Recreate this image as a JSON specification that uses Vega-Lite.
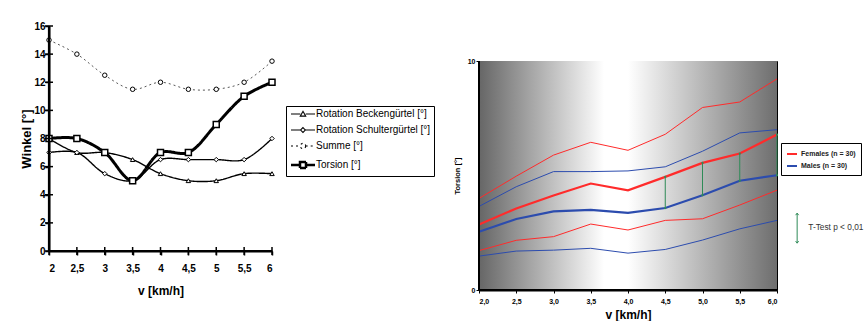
{
  "$schema": "https://vega.github.io/schema/vega-lite/v6.json",
  "background": "white",
  "padding": {"left": 20, "top": 21, "right": 0, "bottom": 0},
  "config": {
    "font": "Liberation Sans",
    "view": {"stroke": null},
    "axis": {"grid": false, "domain": true, "ticks": true, "zindex": 1, "labelOverlap": false, "domainColor": "#000000", "tickColor": "#000000", "labelColor": "black", "titleColor": "black"}
  },
  "spacing": 17,
  "resolve": {"scale": {"x": "independent", "y": "independent", "color": "independent", "strokeDash": "independent", "stroke": "independent"}},
  "hconcat": [
    {
      "width": 223,
      "height": 225,
      "data": {"values": [
        {"v": 2, "series": "Rotation Beckengürtel [°]", "w": 8},
        {"v": 2.5, "series": "Rotation Beckengürtel [°]", "w": 7},
        {"v": 3, "series": "Rotation Beckengürtel [°]", "w": 7},
        {"v": 3.5, "series": "Rotation Beckengürtel [°]", "w": 6.5},
        {"v": 4, "series": "Rotation Beckengürtel [°]", "w": 5.5},
        {"v": 4.5, "series": "Rotation Beckengürtel [°]", "w": 5},
        {"v": 5, "series": "Rotation Beckengürtel [°]", "w": 5},
        {"v": 5.5, "series": "Rotation Beckengürtel [°]", "w": 5.5},
        {"v": 6, "series": "Rotation Beckengürtel [°]", "w": 5.5},
        {"v": 2, "series": "Rotation Schultergürtel [°]", "w": 7},
        {"v": 2.5, "series": "Rotation Schultergürtel [°]", "w": 7},
        {"v": 3, "series": "Rotation Schultergürtel [°]", "w": 5.5},
        {"v": 3.5, "series": "Rotation Schultergürtel [°]", "w": 5},
        {"v": 4, "series": "Rotation Schultergürtel [°]", "w": 6.5},
        {"v": 4.5, "series": "Rotation Schultergürtel [°]", "w": 6.5},
        {"v": 5, "series": "Rotation Schultergürtel [°]", "w": 6.5},
        {"v": 5.5, "series": "Rotation Schultergürtel [°]", "w": 6.5},
        {"v": 6, "series": "Rotation Schultergürtel [°]", "w": 8},
        {"v": 2, "series": "Summe [°]", "w": 15},
        {"v": 2.5, "series": "Summe [°]", "w": 14},
        {"v": 3, "series": "Summe [°]", "w": 12.5},
        {"v": 3.5, "series": "Summe [°]", "w": 11.5},
        {"v": 4, "series": "Summe [°]", "w": 12},
        {"v": 4.5, "series": "Summe [°]", "w": 11.5},
        {"v": 5, "series": "Summe [°]", "w": 11.5},
        {"v": 5.5, "series": "Summe [°]", "w": 12},
        {"v": 6, "series": "Summe [°]", "w": 13.5},
        {"v": 2, "series": "Torsion [°]", "w": 8},
        {"v": 2.5, "series": "Torsion [°]", "w": 8},
        {"v": 3, "series": "Torsion [°]", "w": 7},
        {"v": 3.5, "series": "Torsion [°]", "w": 5},
        {"v": 4, "series": "Torsion [°]", "w": 7},
        {"v": 4.5, "series": "Torsion [°]", "w": 7},
        {"v": 5, "series": "Torsion [°]", "w": 9},
        {"v": 5.5, "series": "Torsion [°]", "w": 11},
        {"v": 6, "series": "Torsion [°]", "w": 12}
      ]},
      "encoding": {
        "x": {"field": "v", "type": "quantitative", "title": "v [km/h]", "scale": {"domain": [2, 6], "nice": false, "zero": false},
          "axis": {"values": [2, 2.5, 3, 3.5, 4, 4.5, 5, 5.5, 6], "labelOverlap": false, "labelExpr": "replace(toString(datum.value), '.', ',')", "labelFontSize": 10, "labelFontWeight": "bold", "tickSize": 4, "tickWidth": 1.5, "domainWidth": 2, "labelPadding": 8, "titleFontSize": 12, "titleFontWeight": "bold", "titlePadding": 12}},
        "y": {"field": "w", "type": "quantitative", "title": "Winkel [°]", "scale": {"domain": [0, 16]},
          "axis": {"values": [0, 2, 4, 6, 8, 10, 12, 14, 16], "labelOverlap": false, "labelFontSize": 10, "labelFontWeight": "bold", "tickSize": 4, "tickWidth": 1.5, "domainWidth": 2, "labelPadding": 0, "titleFontSize": 13, "titleFontWeight": "bold", "titlePadding": 0}}
      },
      "layer": [
        {
          "transform": [{"filter": "datum.series != 'Torsion [°]'"}],
          "mark": {"type": "line", "interpolate": "catmull-rom"},
          "encoding": {
            "color": {"condition": {"test": "datum.series == 'Summe [°]'", "value": "#444444"}, "value": "#000000"},
            "strokeWidth": {"condition": {"test": "datum.series == 'Summe [°]'", "value": 0.9}, "value": 1.4},
            "strokeDash": {"field": "series", "type": "nominal", "scale": {"domain": ["Rotation Beckengürtel [°]", "Rotation Schultergürtel [°]", "Summe [°]", "Torsion [°]"], "range": [[1, 0], [1, 0], [2, 3], [1, 0]]},
              "legend": {
                "orient": "none", "legendX": 237, "legendY": 80, "title": null,
                "strokeColor": "black", "fillColor": "white", "padding": 3,
                "symbolSize": 36, "symbolStrokeColor": "black", "symbolFillColor": "white",
                "labelFontSize": 10, "labelColor": "black", "labelOffset": 17, "rowPadding": 6, "labelLimit": 200,
                "encode": {"symbols": {"update": {
                  "shape": {"signal": "datum.value == 'Rotation Beckengürtel [°]' ? 'M-1,0H2.1M3.9,0H7M3,-0.9L3.9,0.7L2.1,0.7Z' : datum.value == 'Rotation Schultergürtel [°]' ? 'M-1,0H2.2M3.8,0H7M3,-0.8L3.8,0L3,0.8L2.2,0Z' : datum.value == 'Summe [°]' ? 'M-1,0H2.1M3.9,0H7M3.9,0A0.9,0.9 0 1,1 2.1,0A0.9,0.9 0 1,1 3.9,0Z' : 'M-1,0H2M4,0H7M2,-1H4V1H2Z'"},
                  "strokeWidth": {"signal": "datum.value == 'Torsion [°]' ? 2.5 : 1.1"}
                }}}
              }}
          }
        },
        {
          "transform": [{"filter": "datum.series == 'Torsion [°]'"}],
          "mark": {"type": "line", "interpolate": "catmull-rom", "strokeWidth": 3, "color": "#000000"},
          "encoding": {
            "strokeDash": {"field": "series", "type": "nominal"}
          }
        },
        {
          "mark": {"type": "point", "filled": false, "fill": "white", "stroke": "black", "opacity": 1},
          "encoding": {
            "shape": {"condition": [
              {"test": "datum.series == 'Rotation Beckengürtel [°]'", "value": "triangle-up"},
              {"test": "datum.series == 'Rotation Schultergürtel [°]'", "value": "diamond"},
              {"test": "datum.series == 'Summe [°]'", "value": "circle"}
            ], "value": "square"},
            "size": {"condition": {"test": "datum.series == 'Torsion [°]'", "value": 36}, "value": 20},
            "strokeWidth": {"condition": {"test": "datum.series == 'Torsion [°]'", "value": 1.5}, "value": 1}
          }
        },
        {
          "data": {"values": [{"v": 2, "w": 16, "o": 1}, {"v": 2, "w": 0, "o": 2}, {"v": 6, "w": 0, "o": 3}]},
          "mark": {"type": "line", "strokeWidth": 2.2, "color": "#000000", "clip": false},
          "encoding": {"order": {"field": "o", "type": "quantitative"}}
        },
        {
          "data": {"values": [{"v": 2, "w": 0}, {"v": 2.5, "w": 0}, {"v": 3, "w": 0}, {"v": 3.5, "w": 0}, {"v": 4, "w": 0}, {"v": 4.5, "w": 0}, {"v": 5, "w": 0}, {"v": 5.5, "w": 0}, {"v": 6, "w": 0}]},
          "mark": {"type": "tick", "orient": "vertical", "size": 8, "thickness": 1.5, "color": "#000000", "opacity": 1, "clip": false}
        },
        {
          "data": {"values": [{"v": 2, "w": 0}, {"v": 2, "w": 2}, {"v": 2, "w": 4}, {"v": 2, "w": 6}, {"v": 2, "w": 8}, {"v": 2, "w": 10}, {"v": 2, "w": 12}, {"v": 2, "w": 14}, {"v": 2, "w": 16}]},
          "mark": {"type": "tick", "orient": "horizontal", "size": 8, "thickness": 1.5, "color": "#000000", "opacity": 1, "clip": false}
        }
      ]
    },
    {
      "spacing": 0,
      "vconcat": [
        {
          "width": 298,
          "height": 30,
          "data": {"values": []},
          "mark": "point"
        },
        {
          "width": 298,
          "height": 229,
          "view": {"stroke": "black", "strokeWidth": 1},
          "encoding": {
            "x": {"field": "v", "type": "quantitative", "title": "v [km/h]", "scale": {"domain": [2, 6], "nice": false, "zero": false},
              "axis": {"values": [2, 2.5, 3, 3.5, 4, 4.5, 5, 5.5, 6], "labelOverlap": false, "format": ".1f", "labelExpr": "replace(datum.label, '.', ',')", "labelFontSize": 7, "labelFontWeight": "bold", "tickSize": 3, "domainWidth": 2, "labelPadding": 4, "titleFontSize": 12, "titleFontWeight": "bold", "titlePadding": 5}},
            "y": {"field": "t", "type": "quantitative", "title": "Torsion [°]", "scale": {"domain": [0, 10]},
              "axis": {"values": [0, 10], "labelOverlap": false, "labelFontSize": 7, "labelFontWeight": "bold", "tickSize": 3, "domainWidth": 2, "labelPadding": 1, "titleFontSize": 7.5, "titleFontWeight": "bold", "titlePadding": 6}}
          },
          "layer": [
            {
              "data": {"values": [{"v": 2, "v2": 6, "t": 0, "t2": 10}]},
              "mark": {"type": "rect", "fill": {"gradient": "linear", "x1": 0, "y1": 0, "x2": 1, "y2": 0, "stops": [{"offset": 0, "color": "#666666"}, {"offset": 0.42, "color": "#ffffff"}, {"offset": 0.5, "color": "#ffffff"}, {"offset": 1, "color": "#6e6e6e"}]}},
              "encoding": {"x2": {"field": "v2"}, "y2": {"field": "t2"}}
            },
            {
              "data": {"values": [
                {"v": 2, "g": "Females (n = 30)", "s": "upper", "t": 4.0},
                {"v": 2.5, "g": "Females (n = 30)", "s": "upper", "t": 4.97},
                {"v": 3, "g": "Females (n = 30)", "s": "upper", "t": 5.89},
                {"v": 3.5, "g": "Females (n = 30)", "s": "upper", "t": 6.45},
                {"v": 4, "g": "Females (n = 30)", "s": "upper", "t": 6.1},
                {"v": 4.5, "g": "Females (n = 30)", "s": "upper", "t": 6.8},
                {"v": 5, "g": "Females (n = 30)", "s": "upper", "t": 7.97},
                {"v": 5.5, "g": "Females (n = 30)", "s": "upper", "t": 8.21},
                {"v": 6, "g": "Females (n = 30)", "s": "upper", "t": 9.22},
                {"v": 2, "g": "Females (n = 30)", "s": "mean", "t": 2.86},
                {"v": 2.5, "g": "Females (n = 30)", "s": "mean", "t": 3.56},
                {"v": 3, "g": "Females (n = 30)", "s": "mean", "t": 4.13},
                {"v": 3.5, "g": "Females (n = 30)", "s": "mean", "t": 4.65},
                {"v": 4, "g": "Females (n = 30)", "s": "mean", "t": 4.35},
                {"v": 4.5, "g": "Females (n = 30)", "s": "mean", "t": 4.94},
                {"v": 5, "g": "Females (n = 30)", "s": "mean", "t": 5.55},
                {"v": 5.5, "g": "Females (n = 30)", "s": "mean", "t": 5.96},
                {"v": 6, "g": "Females (n = 30)", "s": "mean", "t": 6.79},
                {"v": 2, "g": "Females (n = 30)", "s": "lower", "t": 1.72},
                {"v": 2.5, "g": "Females (n = 30)", "s": "lower", "t": 2.17},
                {"v": 3, "g": "Females (n = 30)", "s": "lower", "t": 2.33},
                {"v": 3.5, "g": "Females (n = 30)", "s": "lower", "t": 2.88},
                {"v": 4, "g": "Females (n = 30)", "s": "lower", "t": 2.62},
                {"v": 4.5, "g": "Females (n = 30)", "s": "lower", "t": 3.04},
                {"v": 5, "g": "Females (n = 30)", "s": "lower", "t": 3.11},
                {"v": 5.5, "g": "Females (n = 30)", "s": "lower", "t": 3.71},
                {"v": 6, "g": "Females (n = 30)", "s": "lower", "t": 4.36},
                {"v": 2, "g": "Males (n = 30)", "s": "upper", "t": 3.65},
                {"v": 2.5, "g": "Males (n = 30)", "s": "upper", "t": 4.51},
                {"v": 3, "g": "Males (n = 30)", "s": "upper", "t": 5.17},
                {"v": 3.5, "g": "Males (n = 30)", "s": "upper", "t": 5.17},
                {"v": 4, "g": "Males (n = 30)", "s": "upper", "t": 5.2},
                {"v": 4.5, "g": "Males (n = 30)", "s": "upper", "t": 5.38},
                {"v": 5, "g": "Males (n = 30)", "s": "upper", "t": 6.06},
                {"v": 5.5, "g": "Males (n = 30)", "s": "upper", "t": 6.86},
                {"v": 6, "g": "Males (n = 30)", "s": "upper", "t": 7.0},
                {"v": 2, "g": "Males (n = 30)", "s": "mean", "t": 2.54},
                {"v": 2.5, "g": "Males (n = 30)", "s": "mean", "t": 3.1},
                {"v": 3, "g": "Males (n = 30)", "s": "mean", "t": 3.43},
                {"v": 3.5, "g": "Males (n = 30)", "s": "mean", "t": 3.5},
                {"v": 4, "g": "Males (n = 30)", "s": "mean", "t": 3.37},
                {"v": 4.5, "g": "Males (n = 30)", "s": "mean", "t": 3.58},
                {"v": 5, "g": "Males (n = 30)", "s": "mean", "t": 4.14},
                {"v": 5.5, "g": "Males (n = 30)", "s": "mean", "t": 4.77},
                {"v": 6, "g": "Males (n = 30)", "s": "mean", "t": 5.01},
                {"v": 2, "g": "Males (n = 30)", "s": "lower", "t": 1.48},
                {"v": 2.5, "g": "Males (n = 30)", "s": "lower", "t": 1.7},
                {"v": 3, "g": "Males (n = 30)", "s": "lower", "t": 1.74},
                {"v": 3.5, "g": "Males (n = 30)", "s": "lower", "t": 1.82},
                {"v": 4, "g": "Males (n = 30)", "s": "lower", "t": 1.61},
                {"v": 4.5, "g": "Males (n = 30)", "s": "lower", "t": 1.77},
                {"v": 5, "g": "Males (n = 30)", "s": "lower", "t": 2.18},
                {"v": 5.5, "g": "Males (n = 30)", "s": "lower", "t": 2.67},
                {"v": 6, "g": "Males (n = 30)", "s": "lower", "t": 3.04}
              ]},
              "mark": {"type": "line"},
              "encoding": {
                "detail": {"field": "s"},
                "color": {"field": "g", "type": "nominal", "scale": {"domain": ["Females (n = 30)", "Males (n = 30)"], "range": ["#ff2b2b", "#2c4cae"]},
                  "legend": {"orient": "none", "legendX": 302, "legendY": 117, "title": null, "strokeColor": "black", "fillColor": "white", "padding": 5, "symbolType": "stroke", "symbolSize": 100, "symbolStrokeWidth": 2, "labelFontSize": 7, "labelFontWeight": "bold", "labelColor": "#222222", "rowPadding": 2, "labelOffset": 3}},
                "strokeWidth": {"condition": {"test": "datum.s == 'mean'", "value": 2.2}, "value": 1}
              }
            },
            {
              "data": {"values": [
                {"v": 4.5, "t": 4.94, "t2": 3.58, "test": "T-Test  p < 0,01"},
                {"v": 5, "t": 5.55, "t2": 4.14, "test": "T-Test  p < 0,01"},
                {"v": 5.5, "t": 5.96, "t2": 4.77, "test": "T-Test  p < 0,01"},
                {"v": 6, "t": 6.79, "t2": 5.01, "test": "T-Test  p < 0,01"}
              ]},
              "mark": {"type": "rule", "strokeWidth": 1},
              "encoding": {
                "y2": {"field": "t2"},
                "stroke": {"field": "test", "type": "nominal", "scale": {"domain": ["T-Test  p < 0,01"], "range": ["#2e8b57"]},
                  "legend": {"orient": "none", "legendX": 314, "legendY": 198, "title": null, "padding": 0, "symbolType": "M0,-15L0,15M-1.5,-13L0,-15L1.5,-13M-1.5,13L0,15L1.5,13", "symbolSize": 4, "symbolStrokeWidth": 1, "symbolFillColor": "transparent", "labelFontSize": 8.3, "labelColor": "#333333", "labelOffset": 7}}
              }
            },
            {
              "data": {"values": [
                {"v": 4.5, "t": 4.94}, {"v": 5, "t": 5.55}, {"v": 5.5, "t": 5.96}, {"v": 6, "t": 6.79},
                {"v": 4.5, "t": 3.58}, {"v": 5, "t": 4.14}, {"v": 5.5, "t": 4.77}, {"v": 6, "t": 5.01}
              ]},
              "mark": {"type": "circle", "size": 5, "color": "#2e8b57", "opacity": 1}
            },
            {
              "data": {"values": [{"v": 2, "t": 10, "o": 1}, {"v": 2, "t": 0, "o": 2}, {"v": 6, "t": 0, "o": 3}]},
              "mark": {"type": "line", "strokeWidth": 2, "color": "#000000", "clip": false},
              "encoding": {"order": {"field": "o", "type": "quantitative"}}
            }
          ]
        }
      ]
    }
  ]
}
